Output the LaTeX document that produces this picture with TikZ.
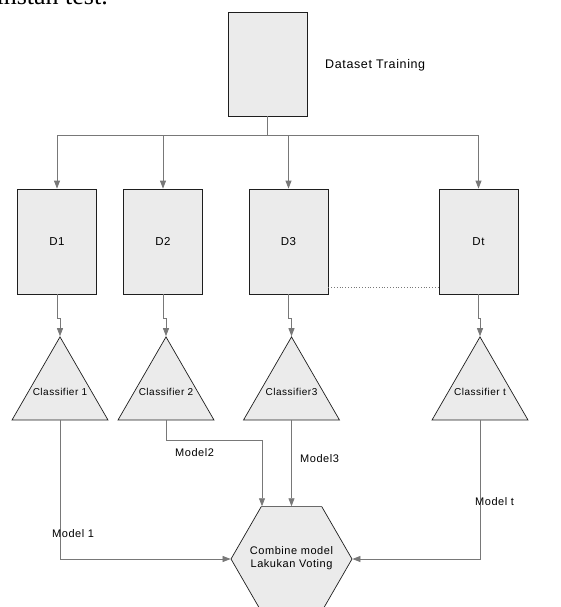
\documentclass[tikz,border=0pt]{standalone}
\usepackage{fontspec}
\setmainfont{Liberation Sans}
\newfontfamily\paperfont{Liberation Serif}
\newfontfamily\diagfont[LetterSpace=5]{Liberation Sans}
\usepackage{tikz}
\usetikzlibrary{positioning,shapes.geometric,arrows.meta,calc}
\definecolor{boxfill}{RGB}{235,235,235}
\definecolor{linegray}{RGB}{120,120,120}
\definecolor{edgedark}{RGB}{30,30,30}
\newcommand{\nosize}[1]{\smash{\makebox[0pt]{\raisebox{-0.5\height}{#1}}}}

\begin{document}
\begin{tikzpicture}[
  x=1pt, y=-1pt,
  every node/.style={font=\diagfont\fontsize{11}{13}\selectfont},
  dbox/.style={draw=edgedark, fill=boxfill, line width=0.8pt,
               minimum width=79pt, minimum height=105pt, inner sep=0pt,
               font=\diagfont\fontsize{11.5}{13}\selectfont},
  clf/.style={draw=edgedark, fill=boxfill, line width=0.7pt, regular polygon,
              regular polygon sides=3, minimum size=110.8pt, inner sep=0pt,
              font=\diagfont\fontsize{10}{12}\selectfont},
  comb/.style={draw=edgedark, fill=boxfill, line width=0.7pt, regular polygon,
               regular polygon sides=6, minimum size=121pt, inner sep=0pt},
  conn/.style={draw=linegray, line width=0.8pt},
  arr/.style={conn, -{Triangle[length=8pt,width=6pt]}},
  lbl/.style={inner sep=0pt},
]
\useasboundingbox (0,0) rectangle (560,607);
% cut-off line of the paper above the figure
\node[font=\paperfont\fontsize{26}{28}\selectfont, anchor=base east, inner sep=0pt] (ptxt) at (108,5) {instan test.};
% data
\node[dbox, minimum height=104pt] (data) at (267.5,64) {};
\node[font=\diagfont\fontsize{12.5}{15}\selectfont, anchor=west, inner sep=0pt] (dlbl) at (325,65) {Dataset Training};
\node[dbox] (d1) at (57,241.5)    {D1};
\node[dbox] (d2) at (163,241.5)   {D2};
\node[dbox] (d3) at (288.5,241.5) {D3};
\node[dbox] (dt) at (478.5,241.5) {Dt};
% classifiers
\node[clf] (cl1) at (60,392.3)    {\nosize{Classifier 1}};
\node[clf] (cl2) at (166,392.3)   {\nosize{Classifier 2}};
\node[clf] (cl3) at (291.5,392.3) {\nosize{Classifier3}};
\node[clf] (clt) at (480,392.3)   {\nosize{Classifier t}};
\node[comb] (hex) at (291.5,559)
  {\smash{\makebox[0pt]{\raisebox{-2.5pt}{\begin{tabular}{@{}c@{}}Combine model\\Lakukan Voting\end{tabular}}}}};
% connectors
\draw[conn] (data.south) -- ++(0,19) coordinate (bus);
\foreach \d in {d1,d2,d3,dt}
  \draw[arr] (bus) -| (\d.north);
\draw[conn, dotted] ([yshift=7pt]d3.south east) -- ([yshift=7pt]dt.south west);
\draw[arr] (d1.south) -- ++(0,24) -| (cl1.north);
\draw[arr] (d2.south) -- ++(0,24) -| (cl2.north);
\draw[arr] (d3.south) -- ++(0,24) -| (cl3.north);
\draw[arr] (dt.south) -- ++(0,24) -| (clt.north);
\draw[arr] (cl1.south) |- (hex.west);
\draw[arr] (cl2.south) -- ++(0,20) -| ([xshift=-29.5pt]hex.north);
\draw[arr] (cl3.south) -- (hex.north);
\draw[arr] (clt.south) |- (hex.east);
\node[lbl, anchor=west] (m1) at (52,534) {Model 1};
\node[lbl, anchor=west] (m2) at (175,453) {Model2};
\node[lbl, anchor=west] (m3) at (300,459) {Model3};
\node[lbl, anchor=west] (mt) at (475,502) {Model t};
\end{tikzpicture}
\end{document}
